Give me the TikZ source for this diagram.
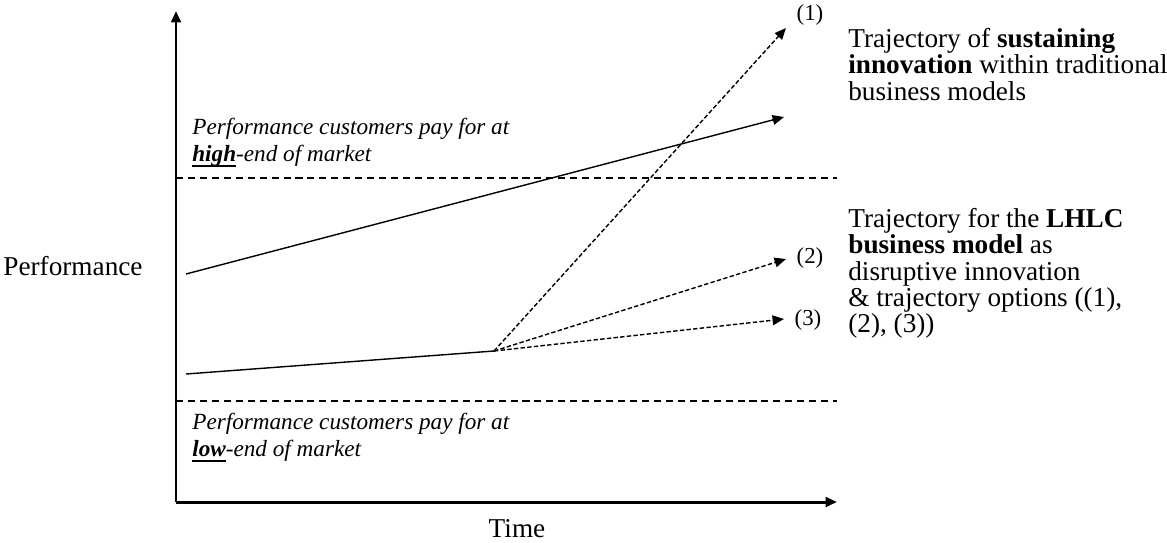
\documentclass[tikz,border=0pt]{standalone}
\usepackage{fontspec}
\setmainfont{Liberation Serif}
\usetikzlibrary{arrows.meta}
% thick underline used for high / low
\newcommand{\heavyul}[1]{\setbox0\hbox{#1}\rlap{\rule[-3pt]{\wd0}{1.3pt}}\box0}
\begin{document}
\begin{tikzpicture}[x=0.02cm, y=-0.02cm,
    axis/.style={line width=1.7pt, -{Triangle[length=6.5pt,width=5.5pt]}},
    trend/.style={line width=0.8pt, -{Triangle[length=6.5pt,width=5.5pt]}},
    option/.style={line width=0.8pt, dash pattern=on 2.5pt off 1.3pt, -{Triangle[length=6.5pt,width=5.5pt]}},
    level/.style={line width=0.7pt, dash pattern=on 4pt off 2.8pt},
    note/.style={font=\fontsize{13.2}{15.3}\selectfont\itshape, align=left, anchor=north west, inner sep=0pt},
    legend/.style={font=\fontsize{15.5}{15}\selectfont, align=left, anchor=north west, inner sep=0pt},
    tag/.style={font=\fontsize{13}{15}\selectfont, inner sep=0pt}]
\useasboundingbox (0,0) rectangle (1167,542);

% Define axes points
\coordinate (O) at (176,502);
\coordinate (ytop) at (176,11);
\coordinate (xend) at (837,502);

% Define levels of the market
\coordinate (hi0) at (176,178);
\coordinate (hi1) at (837,178);
\coordinate (lo0) at (176,401);
\coordinate (lo1) at (837,401);

% Define trajectory points
\coordinate (S0) at (186,274);
\coordinate (S1) at (784,117);
\coordinate (L0) at (186,374);
\coordinate (J) at (494,351);
\coordinate (P1) at (786,28);
\coordinate (P2) at (786,259);
\coordinate (P3) at (784,319);

% Labels
\node (perf) at (73,266) {\fontsize{15.5}{15}\selectfont Performance};
\node[inner sep=0pt] (time) at (517,529) {\fontsize{15.5}{15}\selectfont Time};
\node[tag] (t1) at (810,15) {(1)};
\node[tag] (t2) at (810,258) {(2)};
\node[tag] (t3) at (808,320) {(3)};

\node[note] (high) at (192,118) {Performance customers pay for at\\\heavyul{\textbf{high}}-end of market};
\node[note] (low) at (192,413) {Performance customers pay for at\\\heavyul{\textbf{low}}-end of market};

\node[legend] (sust) at (848,28) {Trajectory of \textbf{sustaining}\\\textbf{innovation} within traditional\\business models};
\node[legend] (lhlc) at (848,208) {Trajectory for the \textbf{LHLC}\\\textbf{business model} as\\disruptive innovation\\\& trajectory options ((1),\\(2), (3))};

% Draw axes
\draw[axis] (O) -- (ytop);
\draw[axis] (O) -- (xend);

% Draw levels
\draw[level] (hi0) -- (hi1);
\draw[level] (lo0) -- (lo1);

% Draw trajectories
\draw[trend] (S0) -- (S1);
\draw[line width=0.8pt] (L0) -- (J);
\draw[option] (J) -- (P1);
\draw[option] (J) -- (P2);
\draw[option] (J) -- (P3);

\end{tikzpicture}
\end{document}
